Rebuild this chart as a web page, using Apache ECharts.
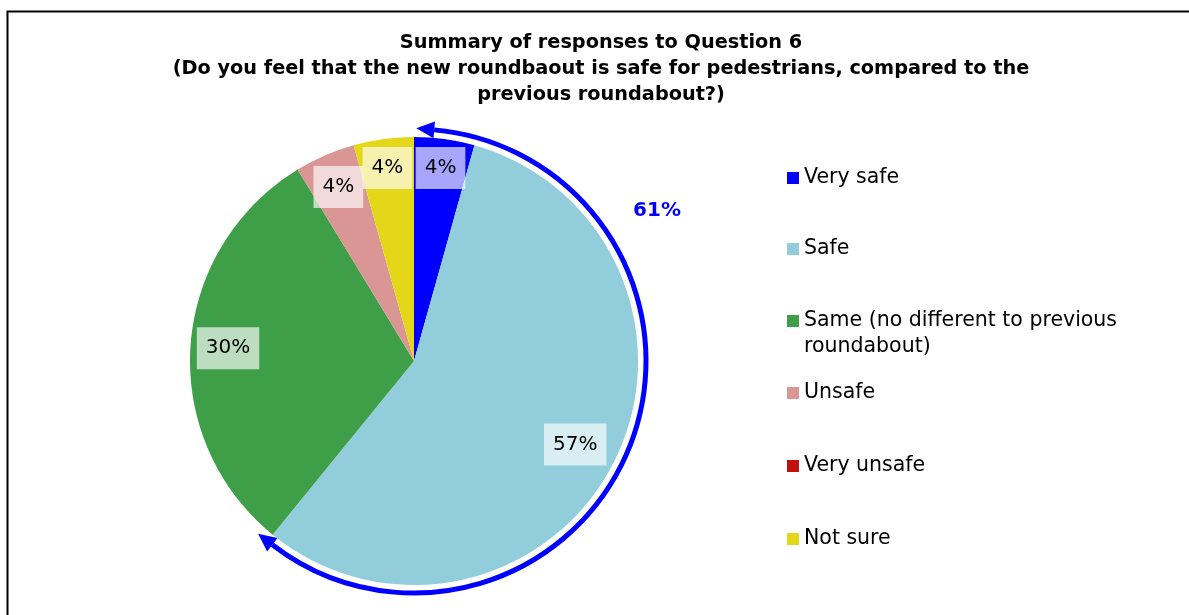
<!DOCTYPE html>
<html>
<head>
<meta charset="utf-8">
<script src="https://cdn.jsdelivr.net/npm/echarts@6/dist/echarts.min.js"></script>
<style>
  html, body { margin: 0; padding: 0; background: #fff; }
  #chart { width: 1189px; height: 615px; }
</style>
</head>
<body>
<div id="chart"></div>
<script>
// responses to question 6 (23 people)
var categories = ['Very safe', 'Safe', 'Same (no different to previous roundabout)', 'Unsafe', 'Very unsafe', 'Not sure'];
var responses = [1, 13, 7, 1, 0, 1];
var colours = ['#0000FF', '#92CDDC', '#3F9E48', '#DA9694', '#C0100F', '#E4D71A'];
// which answers the blue arrow groups together
var safeGroup = ['Very safe', 'Safe'];
var legendTops = [165, 236, 282, 380, 453, 526];

var font = 'DejaVu Sans';
var cx = 414, cy = 361, R = 224;

var total = 0;
for (var i = 0; i < responses.length; i++) total += responses[i];

var groupTotal = 0;
for (var i = 0; i < categories.length; i++) {
	if (safeGroup.indexOf(categories[i]) >= 0) groupTotal += responses[i];
}
var share = groupTotal / total;

var pieData = categories.map(function (name, i) {
	var item = { name: name, value: responses[i], itemStyle: { color: colours[i] } };
	if (responses[i] === 0) item.label = { show: false };
	return item;
});

// legend: one component per entry so each row sits where the original does
var legends = categories.map(function (name, i) {
	return {
		data: [name],
		orient: 'vertical',
		left: 787,
		top: legendTops[i],
		padding: 0,
		itemWidth: 12,
		itemHeight: 12,
		icon: 'rect',
		selectedMode: false,
		formatter: function (n) {
			// wrapped entry: blank first line keeps the marker on the first text line
			if (n.indexOf(' roundabout)') >= 0) return '\n' + n.replace(' roundabout)', '\nroundabout)');
			return n;
		},
		textStyle: {
			fontFamily: font,
			fontSize: 20.5,
			color: '#000',
			lineHeight: 26
		}
	};
});

// blue arrow round the "safe" answers
var arcR = 232;
var a0 = 5 * Math.PI / 180;
var a1 = share * 2 * Math.PI - 1.5 * Math.PI / 180;
function pt(a, r) { return [cx + r * Math.sin(a), cy - r * Math.cos(a)]; }
function arrowHead(a, dir) {
	var b = pt(a, arcR);
	var tx = Math.cos(a) * dir, ty = Math.sin(a) * dir;
	var len = 18, hw = 8.5;
	return [
		[b[0] + tx * len, b[1] + ty * len],
		[b[0] - ty * hw, b[1] + tx * hw],
		[b[0] + ty * hw, b[1] - tx * hw]
	];
}

var chart = echarts.init(document.getElementById('chart'));
chart.setOption({
	animation: false,
	backgroundColor: '#fff',
	title: {
		text: 'Summary of responses to Question 6\n(Do you feel that the new roundbaout is safe for pedestrians, compared to the\nprevious roundabout?)',
		left: 601,
		textAlign: 'center',
		top: 30,
		padding: 0,
		textStyle: {
			fontFamily: font,
			fontSize: 19.3,
			fontWeight: 'bold',
			color: '#000',
			lineHeight: 26
		}
	},
	legend: legends,
	graphic: [
		{
			type: 'rect', left: 5, top: 9, z: -1,
			shape: { width: 1300, height: 700 },
			style: { fill: null, stroke: '#000', lineWidth: 2 }
		},
		{
			type: 'arc',
			shape: { cx: cx, cy: cy, r: arcR, startAngle: -Math.PI / 2 + a0, endAngle: -Math.PI / 2 + a1, clockwise: true },
			style: { fill: null, stroke: '#0000FF', lineWidth: 5 }
		},
		{ type: 'polygon', shape: { points: arrowHead(a0, -1) }, style: { fill: '#0000FF' } },
		{ type: 'polygon', shape: { points: arrowHead(a1, 1) }, style: { fill: '#0000FF' } },
		{
			type: 'text', x: 657, y: 211,
			style: {
				text: Math.round(share * 100) + '%',
				fill: '#0000FF', font: 'bold 20px "DejaVu Sans"',
				textAlign: 'center', textVerticalAlign: 'middle'
			}
		}
	],
	series: [{
		type: 'pie',
		center: [cx, cy],
		radius: R,
		startAngle: 90,
		clockwise: true,
		avoidLabelOverlap: false,
		itemStyle: { borderWidth: 0 },
		emphasis: { disabled: true },
		label: {
			show: true,
			position: 'inside',
			formatter: function (p) { return Math.round(p.percent) + '%'; },
			fontFamily: font,
			fontSize: 20,
			color: '#000',
			lineHeight: 24,
			backgroundColor: 'rgba(255,255,255,0.65)',
			padding: [9, 9]
		},
		labelLayout: function (p) {
			// put each label at the inside end of its slice
			var i = p.dataIndex, before = 0;
			for (var j = 0; j < i; j++) before += responses[j];
			var mid = (before + responses[i] / 2) / total * 2 * Math.PI;
			var s = Math.sin(mid), c = Math.cos(mid);
			var reach = p.labelRect.width / 2 * Math.abs(s) + p.labelRect.height / 2 * Math.abs(c);
			var d = R - 5 - reach;
			return { x: cx + d * s, y: cy - d * c };
		},
		data: pieData
	}]
});
</script>
</body>
</html>
